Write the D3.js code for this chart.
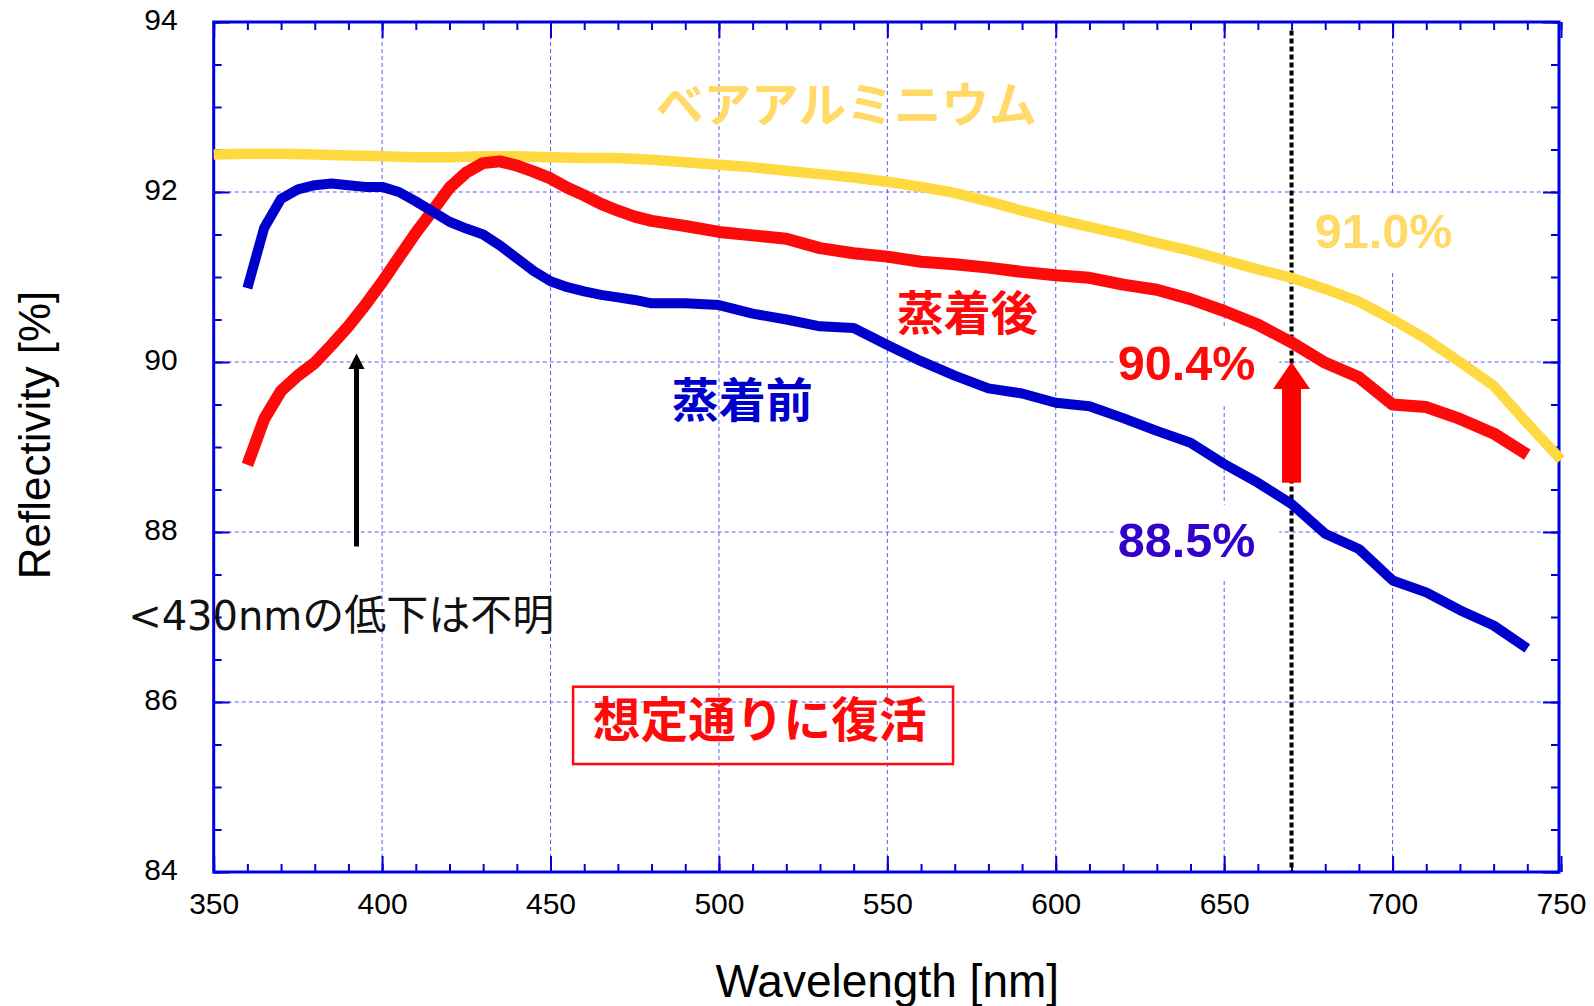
<!DOCTYPE html>
<html>
<head>
<meta charset="utf-8">
<script src="https://cdn.jsdelivr.net/npm/d3@7"></script>
<style>
  html, body { margin: 0; padding: 0; background: #ffffff; }
  svg { display: block; }
</style>
</head>
<body>
<svg id="chart" width="1594" height="1006"></svg>
<script>
// ---------------- data ----------------
const wavelengthsCoated = [360,365,370,375,380,385,390,395,400,405,410,415,420,425,430,435,440,445,450,455,460,465,470,475,480,
  490,500,510,520,530,540,550,560,570,580,590,600,610,620,630,640,650,660,670,680,690,700,710,720,730,740];
const beforeCoating = [90.87,91.58,91.92,92.03,92.08,92.10,92.08,92.06,92.06,92.00,91.89,91.77,91.65,91.57,91.50,91.37,91.22,91.07,90.95,90.88,90.83,90.79,90.76,90.73,90.69,
  90.69,90.67,90.57,90.50,90.42,90.40,90.20,90.01,89.84,89.69,89.63,89.52,89.48,89.34,89.19,89.05,88.80,88.58,88.33,87.98,87.80,87.43,87.29,87.08,86.90,86.63];
const afterCoating = [88.79,89.33,89.66,89.84,89.99,90.20,90.42,90.67,90.94,91.23,91.52,91.78,92.05,92.23,92.34,92.36,92.31,92.24,92.16,92.05,91.96,91.86,91.78,91.71,91.66,
  91.60,91.53,91.49,91.45,91.34,91.28,91.24,91.18,91.15,91.11,91.06,91.02,90.99,90.91,90.85,90.74,90.60,90.44,90.23,89.99,89.82,89.50,89.47,89.33,89.16,88.91];
const wavelengthsBare = [350,360,370,380,390,400,410,420,430,440,450,460,470,480,490,500,510,520,530,540,550,
  560,570,580,590,600,610,620,630,640,650,660,670,680,690,700,710,720,730,740,750];
const bareAluminium = [92.44,92.45,92.45,92.44,92.43,92.42,92.41,92.41,92.42,92.42,92.41,92.40,92.40,92.38,92.35,92.32,92.29,92.25,92.21,92.17,92.12,
  92.06,91.99,91.89,91.78,91.68,91.59,91.50,91.40,91.31,91.20,91.09,90.99,90.86,90.71,90.50,90.27,90.00,89.72,89.28,88.85];

const xMajorTicks = [350,400,450,500,550,600,650,700,750];
const xMinorTicks = d3.range(350, 751, 10);
const yMajorTicks = [84,86,88,90,92,94];
const yMinorTicks = d3.range(84, 94.01, 0.5);
const xGrid = [400,450,500,550,600,650,700];
const yGrid = [86,88,90,92];
const xTitle = "Wavelength [nm]";
const yTitle = "Reflectivity [%]";
const markerWavelength = 670;

// ---------------- layout ----------------
const svg = d3.select("#chart");
const x = d3.scaleLinear().domain([350, 750]).range([213.7, 1561]);
const y = d3.scaleLinear().domain([84, 94]).range([872, 22]);
const axisBlue = "#0000dd";
const gridBlue = "#5c5cf2";

// grid
const grid = svg.append("g");
grid.selectAll("line.gx").data(xGrid).join("line")
  .attr("x1", d => x(d)).attr("x2", d => x(d))
  .attr("y1", y(84)).attr("y2", y(94))
  .attr("stroke", gridBlue).attr("stroke-width", 1).attr("stroke-dasharray", "4,3");
grid.selectAll("line.gy").data(yGrid).join("line")
  .attr("x1", x(350)).attr("x2", x(750))
  .attr("y1", d => y(d)).attr("y2", d => y(d))
  .attr("stroke", gridBlue).attr("stroke-width", 1).attr("stroke-dasharray", "4,3");

// white boxes behind percentage labels (filled later)
const boxLayer = svg.append("g");

// axes
function styleAxis(g) {
  g.select(".domain").remove();
  g.selectAll(".tick line").attr("stroke", axisBlue).attr("stroke-width", 2);
  g.selectAll(".tick text").attr("fill", "#000").attr("font-family", "'Liberation Sans', Arial, sans-serif").attr("font-size", 30);
}
const H = 872, T = 22, L = 213.7, R = 1561;
svg.append("g").attr("transform", `translate(0,${H})`)
  .call(d3.axisBottom(x).tickValues(xMinorTicks).tickSize(-8).tickFormat(""))
  .call(styleAxis);
svg.append("g").attr("transform", `translate(0,${H})`)
  .call(d3.axisBottom(x).tickValues(xMajorTicks).tickSize(-16).tickPadding(21).tickFormat(d3.format("d")))
  .call(styleAxis);
svg.append("g").attr("transform", `translate(0,${T})`)
  .call(d3.axisTop(x).tickValues(xMinorTicks).tickSize(-8).tickFormat(""))
  .call(styleAxis);
svg.append("g").attr("transform", `translate(0,${T})`)
  .call(d3.axisTop(x).tickValues(xMajorTicks).tickSize(-16).tickFormat(""))
  .call(styleAxis);
svg.append("g").attr("transform", `translate(${L},0)`)
  .call(d3.axisLeft(y).tickValues(yMinorTicks).tickSize(-8).tickFormat(""))
  .call(styleAxis);
svg.append("g").attr("transform", `translate(${L},0)`)
  .call(d3.axisLeft(y).tickValues(yMajorTicks).tickSize(-16).tickPadding(36).tickFormat(d3.format("d")))
  .call(styleAxis)
  .call(g => g.selectAll(".tick text").attr("dy", "0.26em"));
svg.append("g").attr("transform", `translate(${R - 2},0)`)
  .call(d3.axisRight(y).tickValues(yMinorTicks).tickSize(-8).tickFormat(""))
  .call(styleAxis);
svg.append("g").attr("transform", `translate(${R - 2},0)`)
  .call(d3.axisRight(y).tickValues(yMajorTicks).tickSize(-16).tickFormat(""))
  .call(styleAxis);

// frame
svg.append("rect")
  .attr("x", L).attr("y", T).attr("width", R - 2 - L).attr("height", H - T)
  .attr("fill", "none").attr("stroke", axisBlue).attr("stroke-width", 3);

// axis titles
svg.append("text")
  .attr("x", (L + R) / 2).attr("y", 997)
  .attr("text-anchor", "middle")
  .attr("font-family", "'Liberation Sans', Arial, sans-serif").attr("font-size", 46)
  .text(xTitle);
svg.append("text")
  .attr("transform", "translate(50,435) rotate(-90)")
  .attr("text-anchor", "middle")
  .attr("font-family", "'Liberation Sans', Arial, sans-serif").attr("font-size", 44)
  .text(yTitle);

// dotted marker at 670 nm
svg.append("line")
  .attr("x1", x(markerWavelength)).attr("x2", x(markerWavelength))
  .attr("y1", y(93.9)).attr("y2", y(84))
  .attr("stroke", "#000").attr("stroke-width", 4).attr("stroke-dasharray", "5,3");

// curves
const series = [
  { name: "bare", xs: wavelengthsBare, ys: bareAluminium, color: "#fed93f", width: 10.5 },
  { name: "after", xs: wavelengthsCoated, ys: afterCoating, color: "#ff0a0a", width: 12 },
  { name: "before", xs: wavelengthsCoated, ys: beforeCoating, color: "#0000cc", width: 10 }
];
const line = d3.line().x(d => x(d[0])).y(d => y(d[1])).curve(d3.curveLinear);
series.forEach(s => {
  svg.append("path")
    .datum(s.xs.map((w, i) => [w, s.ys[i]]))
    .attr("d", line)
    .attr("fill", "none")
    .attr("stroke", s.color)
    .attr("stroke-width", s.width)
    .attr("stroke-linejoin", "round")
    .attr("stroke-linecap", "butt");
});

// black arrow (<430 nm)
const bArrowX = 392.4, bArrowFrom = 87.83, bArrowTo = 90.1;
svg.append("line")
  .attr("x1", x(bArrowX)).attr("x2", x(bArrowX))
  .attr("y1", y(bArrowFrom)).attr("y2", y(bArrowTo) + 12)
  .attr("stroke", "#000").attr("stroke-width", 5);
svg.append("path")
  .attr("d", `M${x(bArrowX)},${y(bArrowTo)} l8,15.5 l-16,0 Z`)
  .attr("fill", "#000");

// red arrow at 670 nm
const rArrowFrom = 88.58, rArrowTo = 90.0;
svg.append("rect")
  .attr("x", x(markerWavelength) - 9.5).attr("width", 19)
  .attr("y", y(rArrowTo) + 26).attr("height", y(rArrowFrom) - y(rArrowTo) - 26)
  .attr("fill", "#ff0000");
svg.append("path")
  .attr("d", `M${x(markerWavelength)},${y(rArrowTo)} l18.5,27 l-37,0 Z`)
  .attr("fill", "#ff0000");

// text annotations
const cjk = "'Noto Sans CJK JP', 'Noto Sans CJK SC', sans-serif";
function cjkLabel(txt, wl, val, color, size) {
  svg.append("text")
    .attr("x", x(wl)).attr("y", y(val))
    .attr("dominant-baseline", "central")
    .attr("font-family", cjk).attr("font-weight", "bold")
    .attr("font-size", size).attr("fill", color)
    .text(txt);
}
cjkLabel("ベアアルミニウム", 481.3, 93.065, "#ffda66", 47.7);
cjkLabel("蒸着後", 552.8, 90.62, "#ff0a0a", 47);
cjkLabel("蒸着前", 486.0, 89.6, "#0000cc", 47);

function pctLabel(txt, wl, val, color) {
  const t = svg.append("text")
    .attr("x", x(wl)).attr("y", y(val))
    .attr("font-family", "'Liberation Sans', Arial, sans-serif").attr("font-weight", "bold")
    .attr("font-size", 48.5).attr("fill", color)
    .text(txt);
  const b = t.node().getBBox();
  boxLayer.append("rect")
    .attr("x", b.x - 4).attr("y", b.y - 8)
    .attr("width", b.width + 28).attr("height", b.height + 22)
    .attr("fill", "#ffffff");
}
pctLabel("91.0%", 676.9, 91.34, "#ffda66");
pctLabel("90.4%", 618.4, 89.788, "#ff0a0a");
pctLabel("88.5%", 618.4, 87.709, "#3300cc");

// boxed note
const noteBox = { x0: 456.7, x1: 569.5, y0: 86.18, y1: 85.27 };
svg.append("rect")
  .attr("x", x(noteBox.x0)).attr("y", y(noteBox.y0))
  .attr("width", x(noteBox.x1) - x(noteBox.x0)).attr("height", y(noteBox.y1) - y(noteBox.y0))
  .attr("fill", "none").attr("stroke", "#ff0a0a").attr("stroke-width", 2.5);
svg.append("text")
  .attr("x", x(512.1)).attr("y", y(85.83))
  .attr("text-anchor", "middle").attr("dominant-baseline", "central")
  .attr("font-family", cjk).attr("font-weight", "bold")
  .attr("font-size", 47.7).attr("fill", "#ff0a0a")
  .text("想定通りに復活");

// plain note
const note = svg.append("text")
  .attr("x", x(324.6)).attr("y", y(86.847))
  .attr("fill", "#111");
note.append("tspan").attr("font-family", "'DejaVu Sans', sans-serif").attr("font-size", 40).text("<430nm");
note.append("tspan").attr("font-family", cjk).attr("font-size", 42).text("の低下は不明");
</script>
</body>
</html>
